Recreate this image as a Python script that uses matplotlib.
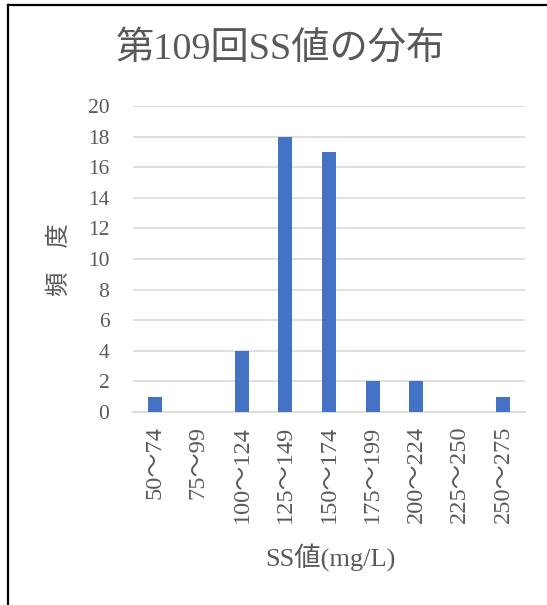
import matplotlib
matplotlib.use("Agg")
import matplotlib.pyplot as plt
from matplotlib.lines import Line2D

plt.rcParams['font.family'] = ['Liberation Serif', 'Noto Sans CJK JP']

categories = ["50～74", "75～99", "100～124", "125～149", "150～174",
              "175～199", "200～224", "225～250", "250～275"]
counts = [1, 0, 4, 18, 17, 2, 2, 0, 1]
y_ticks = list(range(0, 21, 2))

title = "第109回SS値の分布"
x_label = "SS値(mg/L)"
y_label = "頻　度"

text_color = "#595959"
bar_color = "#4472C4"
grid_color = "#D9D9D9"

W, H = 547, 605
fig = plt.figure(figsize=(W / 100, H / 100), dpi=100)
ax = fig.add_axes([133 / W, 1 - 412 / H, (525 - 133) / W, (412 - 106) / H])

x = range(len(categories))
ax.bar(x, counts, width=0.32, color=bar_color, zorder=3)

ax.set_xlim(-0.5, len(categories) - 0.5)
ax.set_ylim(0, 20)
ax.set_yticks(y_ticks)
ax.set_yticklabels([str(v) for v in y_ticks])
ax.set_xticks(list(x))
ax.set_xticklabels(categories, rotation=90)

ax.grid(axis="y", color=grid_color, linewidth=1.2, zorder=0)
for s in ["top", "right", "left"]:
    ax.spines[s].set_visible(False)
ax.spines["bottom"].set_color(grid_color)
ax.spines["bottom"].set_linewidth(1.2)
ax.tick_params(axis="both", length=0, colors=text_color)
ax.tick_params(axis="y", pad=17, labelsize=15.5)
ax.tick_params(axis="x", pad=10, labelsize=17.5)

fig.text(280 / W, 1 - 49 / H, title, ha="center", va="center",
         fontsize=27.5, color=text_color)
fig.text(330 / W, 1 - 557 / H, x_label, ha="center", va="center",
         fontsize=19, color=text_color)
fig.text(60 / W, 1 - 260 / H, y_label, ha="center", va="center",
         rotation=90, fontsize=17.5, color=text_color)

# outer frame (left and top edges)
fig.add_artist(Line2D([7.5 / W, 7.5 / W], [0, 1 - 4.5 / H], transform=fig.transFigure,
                      color="black", linewidth=1.6))
fig.add_artist(Line2D([7.5 / W, 1], [1 - 4.5 / H, 1 - 4.5 / H], transform=fig.transFigure,
                      color="black", linewidth=1.6))

fig.savefig("out.png", dpi=100, facecolor="white")
